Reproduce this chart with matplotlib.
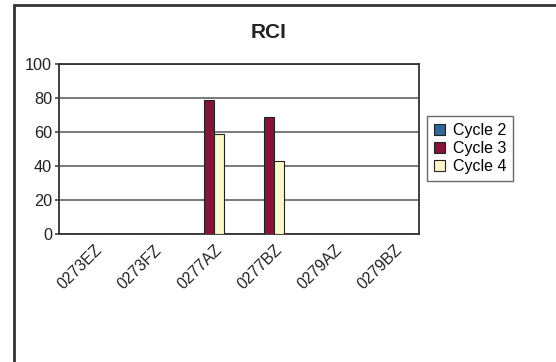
import numpy as np
import matplotlib.pyplot as plt
import matplotlib.transforms as mtransforms
from matplotlib.patches import Rectangle

plt.rcParams["font.family"] = ["Liberation Sans", "DejaVu Sans"]

# Chart data
sites = ["0273EZ", "0273FZ", "0277AZ", "0277BZ", "0279AZ", "0279BZ"]
cycles = ["Cycle 2", "Cycle 3", "Cycle 4"]
cycle2 = [0, 0, 0, 0, 0, 0]
cycle3 = [0, 0, 79, 69, 0, 0]
cycle4 = [0, 0, 59, 43, 0, 0]
colors = ["#336699", "#861439", "#FFF7CC"]

fig = plt.figure(figsize=(5.56, 3.62), dpi=100)

# Outer chart frame (runs off the right and bottom edges)
fig.patches.append(Rectangle((13.5 / 556, -0.1), 1.2, (362 - 5.5) / 362 + 0.1,
                             transform=fig.transFigure, fill=False,
                             edgecolor="#333333", linewidth=2))

ax = fig.add_axes([59 / 556, 128 / 362, 360 / 556, 170 / 362])

x = np.arange(len(sites))
width = 1 / 6
series = [cycle2, cycle3, cycle4]
for i, vals in enumerate(series):
    ax.bar(x + (i - 1) * width, vals, width, color=colors[i],
           edgecolor="#222222", linewidth=0.8, label=cycles[i], zorder=3)

ax.set_xlim(-0.5, len(sites) - 0.5)
ax.set_ylim(0, 100)
ax.set_yticks(range(0, 101, 20))
ax.yaxis.grid(True, color="#555555", linewidth=1.1, zorder=0)
ax.set_axisbelow(True)

for s in ax.spines.values():
    s.set_color("#333333")
    s.set_linewidth(1.3)

ax.tick_params(axis="y", length=3, width=1.1, color="#333333",
               labelsize=11.7, labelcolor="#222222", pad=2)
ax.tick_params(axis="x", length=0, labelsize=11.5, labelcolor="#222222", pad=6)
ax.set_xticks(x)
ax.set_xticklabels(sites, rotation=45, ha="right", rotation_mode="anchor")
shift = mtransforms.ScaledTranslation(5 / 100, 0, fig.dpi_scale_trans)
for lbl in ax.get_xticklabels():
    lbl.set_transform(lbl.get_transform() + shift)

fig.text(269 / 556, 1 - 32 / 362, "RCI", ha="center", va="center",
         fontsize=15, fontweight="bold", color="#222222")

leg = ax.legend(loc="center left", bbox_to_anchor=(427 / 556, 1 - 148.5 / 362),
                bbox_transform=fig.transFigure, frameon=True, fancybox=False,
                fontsize=11.5, handlelength=0.65, handleheight=0.65,
                handletextpad=0.5, borderpad=0.45, labelspacing=0.2,
                borderaxespad=0)
leg.get_frame().set_edgecolor("#444444")
leg.get_frame().set_linewidth(1)

fig.savefig("out.png", dpi=100)
